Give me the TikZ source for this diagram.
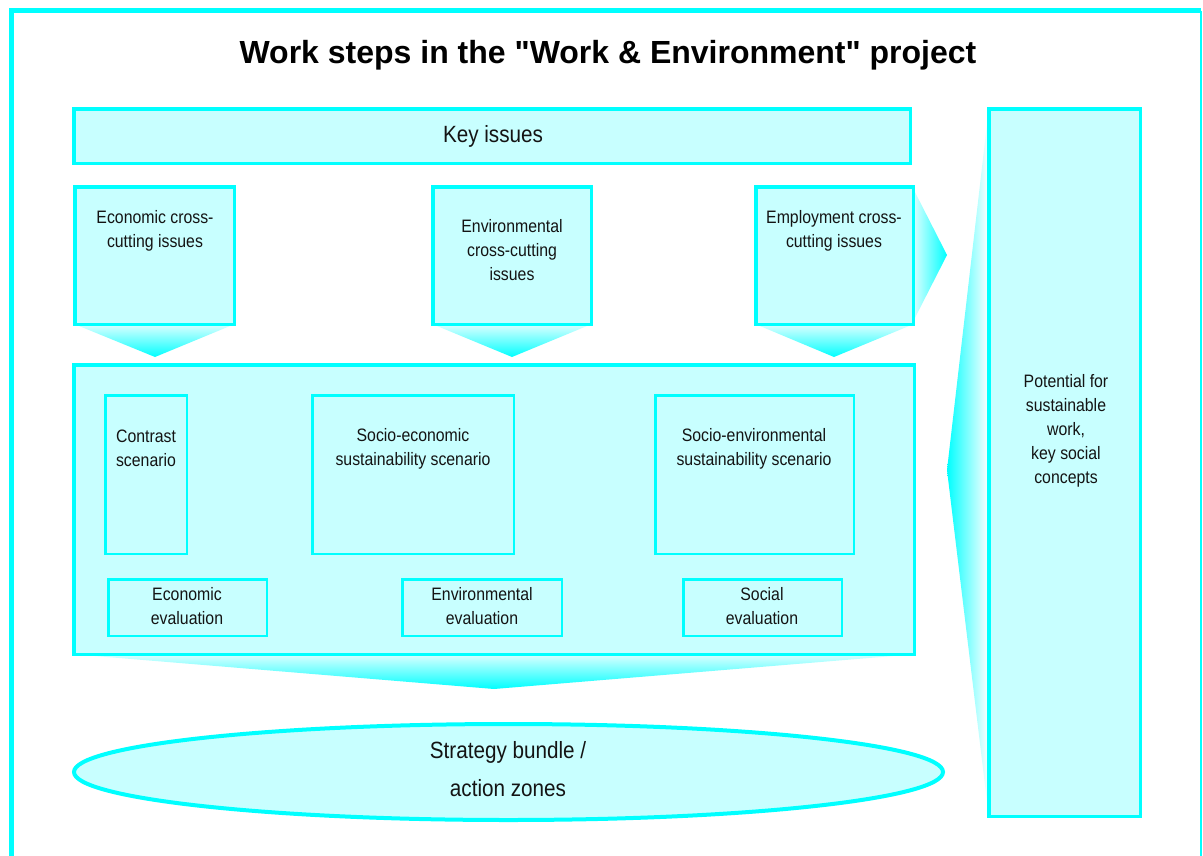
\documentclass[tikz,border=0pt]{standalone}
\usepackage{fontspec}
\setmainfont{Liberation Sans}
\newfontfamily\cond{Liberation Sans}[FakeStretch=0.88]
\usetikzlibrary{shapes.geometric,backgrounds,calc}
\definecolor{bord}{RGB}{0,255,255}
\definecolor{fillc}{RGB}{200,255,255}
\definecolor{wtop}{RGB}{220,255,255}
\definecolor{txt}{RGB}{20,20,20}
\tikzset{
  box/.style={draw=bord, fill=fillc, line width=3.5pt, rectangle, inner sep=0pt, outer sep=0pt},
  ibox/.style={box, line width=2.5pt},
  lbl/.style={font=\cond\fontsize{18}{24}\selectfont, text=txt, align=center, inner sep=0pt},
  biglbl/.style={font=\cond\fontsize{23.5}{38}\selectfont, text=txt, align=center, inner sep=0pt},
  vwedge/.style={top color=wtop, bottom color=bord, draw=none},
}
\begin{document}
\begin{tikzpicture}[x=1pt,y=-1pt]
\useasboundingbox (0,0) rectangle (1203,855);
% outer frame
\draw[bord, line width=4.5pt] (11.5,870) -- (11.5,10.5) -- (1201,10.5);
\draw[bord, line width=1.5pt] (1201,10.5) -- (1201,870);
% title
\node[font=\fontsize{32}{38}\selectfont\bfseries, inner sep=0pt] (title) at (608,55) {Work steps in the \textquotedbl Work \& Environment\textquotedbl{} project};
% boxes
\node[box, minimum width=836.5pt, minimum height=54.5pt] (key) at (492,136) {};
\node[box, minimum width=159.5pt, minimum height=137.5pt] (eco) at (154.5,255.5) {};
\node[box, minimum width=158.5pt, minimum height=137.5pt] (env) at (512,255.5) {};
\node[box, minimum width=157.5pt, minimum height=137.5pt] (emp) at (834.5,255.5) {};
\node[box, minimum width=840.5pt, minimum height=289.5pt] (main) at (494,509.5) {};
\node[ibox, minimum width=81.5pt, minimum height=158.5pt] (con) at (146,474.5) {};
\node[ibox, minimum width=201.5pt, minimum height=158.5pt] (seco) at (413,474.5) {};
\node[ibox, minimum width=198.5pt, minimum height=158.5pt] (senv) at (754.5,474.5) {};
\node[ibox, minimum width=158.5pt, minimum height=56.5pt] (ecoev) at (187.5,607.5) {};
\node[ibox, minimum width=159.5pt, minimum height=56.5pt] (envev) at (482,607.5) {};
\node[ibox, minimum width=158.5pt, minimum height=56.5pt] (socev) at (762.5,607.5) {};
\node[box, line width=4pt, ellipse, minimum width=869pt, minimum height=96pt] (strat) at (508.5,772) {};
\node[box, minimum width=151.5pt, minimum height=707.5pt] (pot) at (1064.5,462.5) {};
% wedge tips
\coordinate (ecotip) at (155,357);
\coordinate (envtip) at (512,357);
\coordinate (emptip) at (834,357);
\coordinate (empright) at (947,255);
\coordinate (maintip) at (494,689);
\coordinate (pottip) at (947,470);
\begin{scope}[on background layer]
  \shade[vwedge] (eco.south west) -- (eco.south east) -- (ecotip) -- cycle;
  \shade[vwedge] (env.south west) -- (env.south east) -- (envtip) -- cycle;
  \shade[vwedge] (emp.south west) -- (emp.south east) -- (emptip) -- cycle;
  \shade[left color=wtop, right color=bord] ($(emp.north east)+(0,2)$) -- (empright) -- ($(emp.south east)+(0,-3)$) -- cycle;
  \shade[top color=wtop, bottom color=bord] (main.south west) -- (main.south east) -- (maintip) -- cycle;
  \shade[left color=bord, right color=white] (pot.north west) -- (pottip) -- (pot.south west) -- cycle;
\end{scope}
% labels
\node[biglbl] (keyt) at (493,136) {Key issues};
\node[lbl] (ecot) at (155,230.5) {Economic cross-\\cutting issues};
\node[lbl] (envt) at (512,250) {Environmental\\cross-cutting\\issues};
\node[lbl] (empt) at (834,230.5) {Employment cross-\\cutting issues};
\node[lbl] (cont) at (146,448.5) {Contrast\\scenario};
\node[lbl] (secot) at (413,449) {Socio-economic\\sustainability scenario};
\node[lbl] (senvt) at (754,449) {Socio-environmental\\sustainability scenario};
\node[lbl] (ecoevt) at (187,606.5) {Economic\\evaluation};
\node[lbl] (envevt) at (482,606.5) {Environmental\\evaluation};
\node[lbl] (socevt) at (762,606.5) {Social\\evaluation};
\node[biglbl] (stratt) at (508,769) {Strategy bundle /\\action zones};
\node[lbl] (pott) at (1066,431) {Potential for\\sustainable\\work,\\key social\\concepts};
\end{tikzpicture}
\end{document}
